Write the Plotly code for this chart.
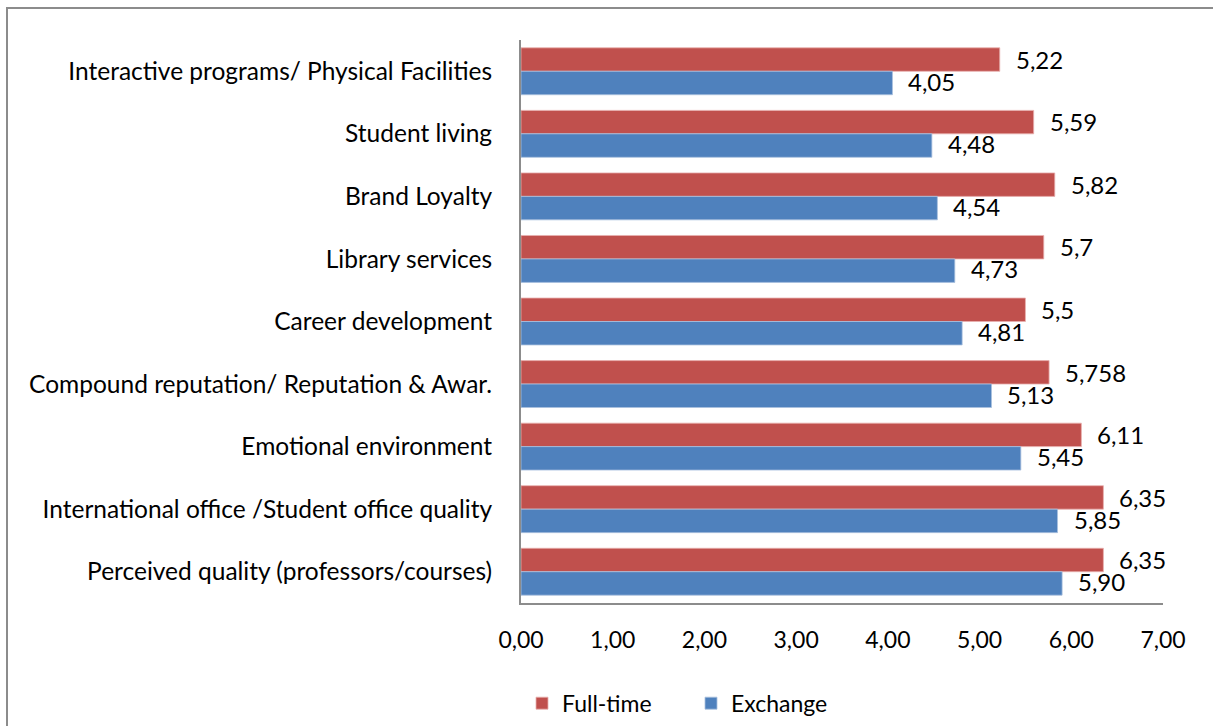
import plotly.graph_objects as go

# Categories, listed top to bottom
categories = [
    "Interactive programs/ Physical Facilities",
    "Student living",
    "Brand Loyalty",
    "Library services",
    "Career development",
    "Compound reputation/ Reputation & Awar.",
    "Emotional environment",
    "International office /Student office quality",
    "Perceived quality (professors/courses)",
]

# Value labels as printed (comma decimal)
fulltime_labels = ["5,22", "5,59", "5,82", "5,7", "5,5", "5,758", "6,11", "6,35", "6,35"]
exchange_labels = ["4,05", "4,48", "4,54", "4,73", "4,81", "5,13", "5,45", "5,85", "5,90"]

fulltime = [float(s.replace(",", ".")) for s in fulltime_labels]
exchange = [float(s.replace(",", ".")) for s in exchange_labels]

x_ticks = [0, 1, 2, 3, 4, 5, 6, 7]
x_tick_text = ["0,00", "1,00", "2,00", "3,00", "4,00", "5,00", "6,00", "7,00"]

RED = "#C0504D"
BLUE = "#4F81BD"
FONT = "Lato"
FS = 24

fig = go.Figure()
fig.add_trace(go.Bar(
    y=categories, x=fulltime, name="Full-time", orientation="h",
    marker=dict(color=RED, line=dict(color="#e8b0ae", width=0.8)),
))
fig.add_trace(go.Bar(
    y=categories, x=exchange, name="Exchange", orientation="h",
    marker=dict(color=BLUE, line=dict(color="#a9c0de", width=0.8)),
))

# Data labels just past the end of each bar
annotations = []
for cat, v, lab in zip(categories, fulltime, fulltime_labels):
    annotations.append(dict(x=v, y=cat, text=lab, showarrow=False, xanchor="left",
                            xshift=14, yshift=12, font=dict(family=FONT, size=FS, color="black")))
for cat, v, lab in zip(categories, exchange, exchange_labels):
    annotations.append(dict(x=v, y=cat, text=lab, showarrow=False, xanchor="left",
                            xshift=14, yshift=-10, font=dict(family=FONT, size=FS, color="black")))

# Outer chart border
L, T, B = 521, 40, 603
W, H = 1163 - 521, 603 - 40
shapes = [dict(type="rect", xref="paper", yref="paper",
               x0=(7 - L) / W, x1=(1225 - L) / W,
               y0=(B - 740) / H, y1=(B - 8) / H,
               line=dict(color="#8c8c8c", width=2), fillcolor="rgba(0,0,0,0)", layer="below")]

fig.update_layout(
    width=1213, height=726,
    margin=dict(l=L, r=1213 - 1163, t=T, b=726 - B, autoexpand=False),
    barmode="group", bargap=0.25, bargroupgap=0,
    plot_bgcolor="white", paper_bgcolor="white",
    font=dict(family=FONT, size=FS, color="black"),
    annotations=annotations, shapes=shapes,
    legend=dict(orientation="h", x=(691 - L) / W, y=-0.178, xanchor="center", yanchor="middle",
                font=dict(family=FONT, size=FS - 1), traceorder="normal", itemwidth=30,
                entrywidth=124, entrywidthmode="pixels"),
    showlegend=True,
)
fig.update_xaxes(range=[0, 7], tickvals=x_ticks, ticktext=x_tick_text,
                 showgrid=False, zeroline=False, showline=True, linecolor="#8c8c8c", linewidth=2,
                 ticks="", ticklabelstandoff=15, tickfont=dict(family=FONT, size=FS - 1))
fig.update_yaxes(autorange="reversed", showgrid=False, showline=True, linecolor="#8c8c8c",
                 linewidth=2, ticks="", ticklabelstandoff=22, tickfont=dict(family=FONT, size=FS + 0.5))

fig.write_html("out.html")
